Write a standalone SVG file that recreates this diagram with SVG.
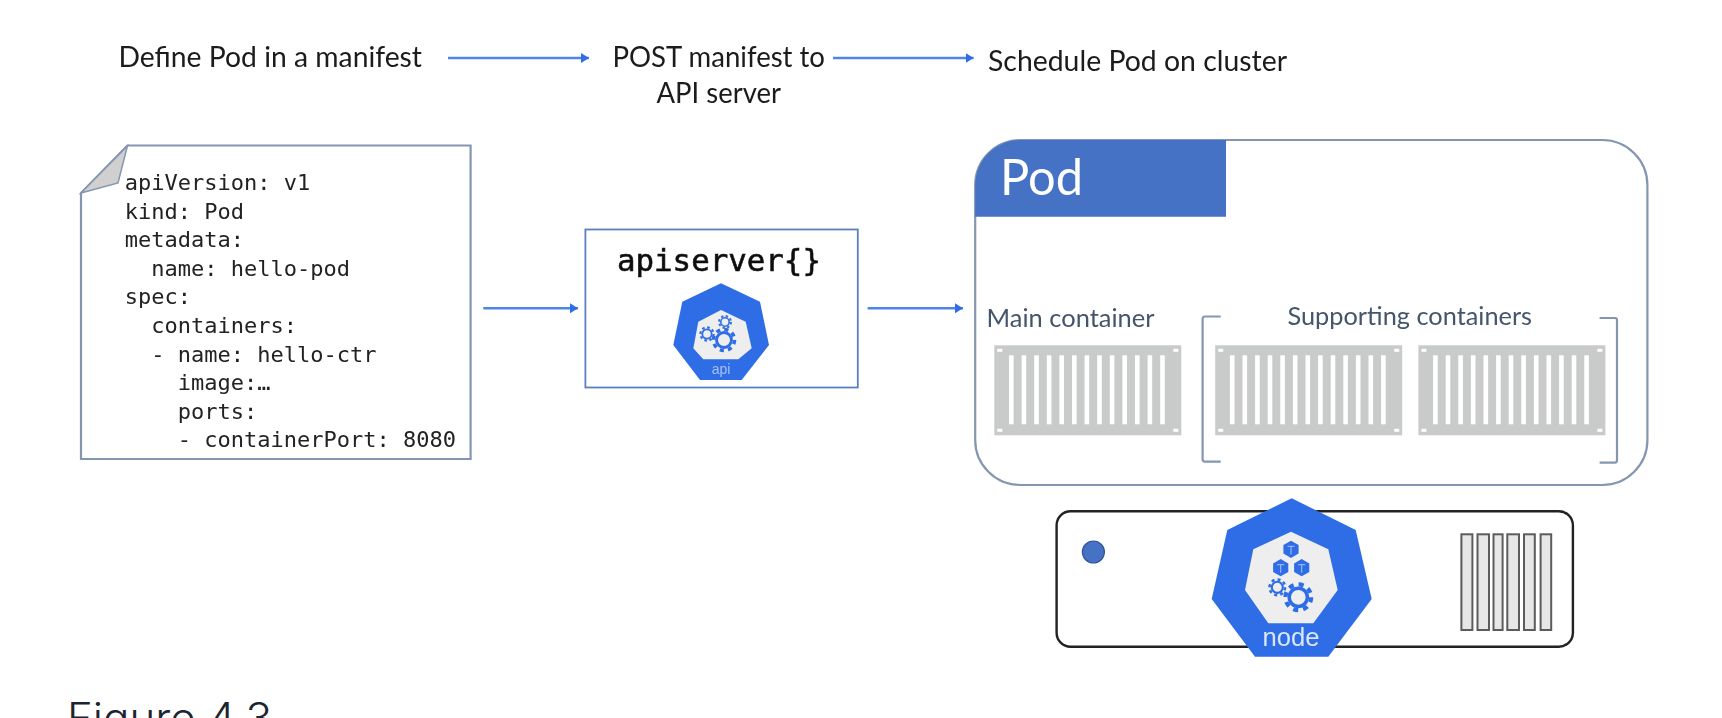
<svg xmlns="http://www.w3.org/2000/svg" xmlns:xlink="http://www.w3.org/1999/xlink" width="1722" height="718" viewBox="0 0 1722 718">
<style>
text{font-family:"Lato","Liberation Sans",sans-serif}
.step{font-size:28px;fill:#1a1a1a}
.mono{font-family:"DejaVu Sans Mono","Liberation Mono",monospace;font-size:22px;fill:#222}
.sub{font-size:24.5px;fill:#44546a}
.edge{fill:none;stroke:#4f84e8;stroke-width:2.4}
.outline{fill:none;stroke:#8496b0;stroke-width:2.2}
.box{fill:#c8cbc9}
.slat{fill:#fff}
.blue{fill:#2f6de5}
.pale{fill:#eee}
.bar{fill:#e7e7e7;stroke:#5c5c5c;stroke-width:2}
</style>
<defs>
<filter id="soft" filterUnits="userSpaceOnUse" x="0" y="0" width="1722" height="718"><feGaussianBlur stdDeviation="0.55"/></filter>
<marker id="head" markerUnits="userSpaceOnUse" markerWidth="8" markerHeight="10" refX="8" refY="5" orient="auto"><path d="M0,0L8,5L0,10z" fill="#2f6de5"/></marker>
<g id="gear">
<circle r="9.2" fill="none" stroke="#2f6de5" stroke-width="3" stroke-dasharray="3.61 3.61"/>
<circle r="6.5" fill="#eee" stroke="#2f6de5" stroke-width="2.5"/>
</g>
<g id="cube">
<polygon points="0,-8.6 7.6,-4.3 7.6,4.3 0,8.6 -7.6,4.3 -7.6,-4.3" fill="#2f6de5"/>
<path d="M-3.5,-3H3.5M0,-3V5" fill="none" stroke="#a9c4f5" stroke-width="1"/>
</g>
<g id="ctr">
<rect class="box" width="187" height="90"/>
<g class="slat">
<rect x="14.7" y="10" width="4.6" height="69"/><rect x="27.3" y="10" width="4.6" height="69"/><rect x="39.9" y="10" width="4.6" height="69"/><rect x="52.5" y="10" width="4.6" height="69"/><rect x="65.1" y="10" width="4.6" height="69"/><rect x="77.7" y="10" width="4.6" height="69"/><rect x="90.3" y="10" width="4.6" height="69"/><rect x="102.9" y="10" width="4.6" height="69"/><rect x="115.5" y="10" width="4.6" height="69"/><rect x="128.1" y="10" width="4.6" height="69"/><rect x="140.7" y="10" width="4.6" height="69"/><rect x="153.3" y="10" width="4.6" height="69"/><rect x="165.9" y="10" width="4.6" height="69"/>
<rect x="3" y="3.5" width="5" height="3"/><rect x="179" y="3.5" width="5" height="3"/><rect x="3" y="83.5" width="5" height="3"/><rect x="179" y="83.5" width="5" height="3"/>
</g>
</g>
</defs>
<rect width="1722" height="718" fill="#fff"/>

<g filter="url(#soft)">
<g id="step-define"><text class="step" x="118.5" y="67" textLength="303.5" lengthAdjust="spacingAndGlyphs">Define Pod in a manifest</text></g>
<g id="step-post">
<text class="step" x="612.5" y="67" textLength="212.5" lengthAdjust="spacingAndGlyphs">POST manifest to</text>
<text class="step" x="656.5" y="103" textLength="124.5" lengthAdjust="spacingAndGlyphs">API server</text>
</g>
<g id="step-schedule"><text class="step" x="988" y="71" textLength="299" lengthAdjust="spacingAndGlyphs">Schedule Pod on cluster</text></g>

<g id="manifest">
<path d="M81,193L127.4,145.5H470.6V459H81Z" fill="#fff" stroke="#8496b0" stroke-width="2.2"/>
<path d="M127.4,146L118,183L81,193Z" fill="#d0d0d0" stroke="#8496b0" stroke-width="1.5"/>
<text class="mono" x="124.8" y="190">apiVersion: v1</text>
<text class="mono" x="124.8" y="218.6">kind: Pod</text>
<text class="mono" x="124.8" y="247.2">metadata:</text>
<text class="mono" x="124.8" y="275.8" xml:space="preserve">  name: hello-pod</text>
<text class="mono" x="124.8" y="304.4">spec:</text>
<text class="mono" x="124.8" y="333" xml:space="preserve">  containers:</text>
<text class="mono" x="124.8" y="361.6" xml:space="preserve">  - name: hello-ctr</text>
<text class="mono" x="124.8" y="390.2" xml:space="preserve">    image:…</text>
<text class="mono" x="124.8" y="418.8" xml:space="preserve">    ports:</text>
<text class="mono" x="124.8" y="447.4" xml:space="preserve">    - containerPort: 8080</text>
</g>

<g id="apiserver">
<rect x="585.4" y="229.5" width="272.4" height="158" fill="#fff" stroke="#5b7fc2" stroke-width="1.8"/>
<text x="617" y="271" font-size="30.8" stroke="#111" stroke-width=".6" style="font-family:'DejaVu Sans Mono',monospace;fill:#111">apiserver{}</text>
<polygon class="blue" points="721,283.3 760,301.7 769,345 741.7,380 700,380 673.3,345 682.3,301.7"/>
<polygon class="pale" points="721,310 745.7,321.7 751.7,348.3 738.3,359.3 703.3,359.3 693.3,348.3 698.3,321.7"/>
<use xlink:href="#gear" href="#gear" transform="translate(707,334) scale(.72)"/>
<use xlink:href="#gear" href="#gear" transform="translate(725,322) scale(.65)"/>
<use xlink:href="#gear" href="#gear" transform="translate(724,340) scale(1.15)"/>
<text x="721" y="373.5" text-anchor="middle" font-size="14" style="font-family:'Liberation Sans',sans-serif;fill:#a5c0f2">api</text>
</g>

<g id="pod">
<rect x="975.2" y="140" width="672.2" height="345" rx="45" ry="45" class="outline" fill="#fff"/>
<path d="M975.2,216.7V185A45,45 0 0 1 1020.2,140H1226V216.7Z" fill="#4472c4"/>
<text x="1000" y="195" font-size="50" textLength="83" lengthAdjust="spacingAndGlyphs" style="fill:#fff">Pod</text>
</g>

<g id="main-container">
<text class="sub" x="986.5" y="326.7" textLength="168" lengthAdjust="spacingAndGlyphs">Main container</text>
<use xlink:href="#ctr" href="#ctr" x="994.3" y="345.3"/>
</g>

<g id="supporting-containers">
<text class="sub" x="1287.5" y="325" textLength="244.5" lengthAdjust="spacingAndGlyphs">Supporting containers</text>
<path d="M1220.7,316.5H1205Q1202.6,316.5 1202.6,319V459Q1202.6,461.7 1205,461.7H1220.7" class="outline"/>
<path d="M1599.6,318H1615Q1617,318 1617,320V460Q1617,462.7 1615,462.7H1599.6" class="outline"/>
<use xlink:href="#ctr" href="#ctr" x="1215.2" y="345.3"/>
<use xlink:href="#ctr" href="#ctr" x="1418.4" y="345.3"/>
</g>

<g id="server">
<rect x="1056.6" y="511.3" width="516.3" height="135.4" rx="14" ry="14" fill="#fff" stroke="#222" stroke-width="2.4"/>
<circle cx="1093.4" cy="552" r="11" fill="#4472c4" stroke="#2f5597" stroke-width="1.2"/>
<rect class="bar" x="1461.4" y="534.3" width="11" height="95.7"/>
<rect class="bar" x="1477.5" y="534.3" width="11.5" height="95.7"/>
<rect class="bar" x="1493.5" y="534.3" width="9.1" height="95.7"/>
<rect class="bar" x="1507.3" y="534.3" width="11.7" height="95.7"/>
<rect class="bar" x="1524" y="534.3" width="10.8" height="95.7"/>
<rect class="bar" x="1540.6" y="534.3" width="10.6" height="95.7"/>
</g>

<g id="node">
<polygon class="blue" points="1291.7,498.3 1355.7,530 1371.7,599 1328.3,656.7 1255,656.7 1211.7,599 1227.3,530"/>
<polygon class="pale" points="1291,531.7 1328.3,549.3 1337.7,590 1313.3,623.3 1268.3,623.3 1245,590 1253.3,549.3"/>
<use xlink:href="#cube" href="#cube" x="1291" y="549.3"/>
<use xlink:href="#cube" href="#cube" x="1280.7" y="567.7"/>
<use xlink:href="#cube" href="#cube" x="1301.7" y="567.7"/>
<use xlink:href="#gear" href="#gear" transform="translate(1277.3,587.3) scale(.85)"/>
<use xlink:href="#gear" href="#gear" transform="translate(1298.3,597.3) scale(1.4)"/>
<text x="1291" y="646" text-anchor="middle" font-size="25.6" style="font-family:'Liberation Sans',sans-serif;fill:#dbe6fa">node</text>
</g>

<g id="connectors">
<line class="edge" x1="448" y1="58" x2="589" y2="58" marker-end="url(#head)"/>
<line class="edge" x1="833" y1="58" x2="973.6" y2="58" marker-end="url(#head)"/>
<line class="edge" x1="483.3" y1="308.3" x2="578" y2="308.3" marker-end="url(#head)"/>
<line class="edge" x1="867.6" y1="308.3" x2="963" y2="308.3" marker-end="url(#head)"/>
</g>
</g>

<g id="caption"><text x="67" y="733" font-size="42" textLength="205" lengthAdjust="spacingAndGlyphs" style="font-family:Inter,'Liberation Sans',sans-serif;font-weight:300;fill:#1a2530">Figure 4.3</text></g>
</svg>
